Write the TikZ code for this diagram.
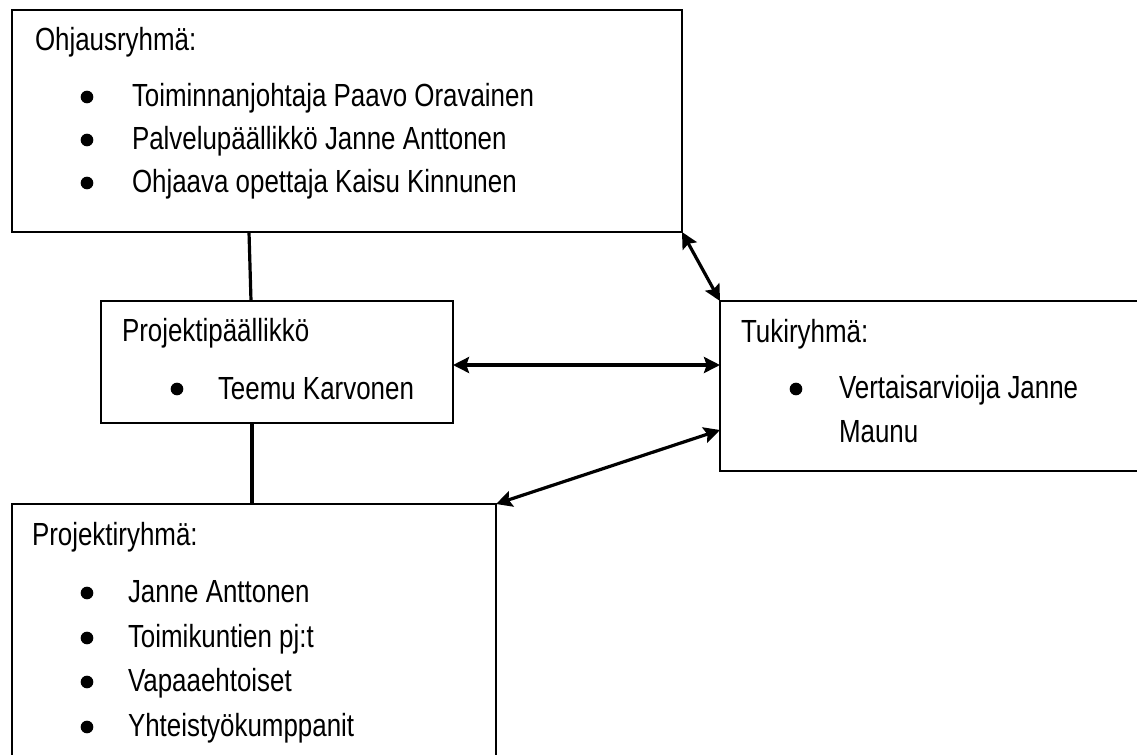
\documentclass[tikz,border=0pt]{standalone}
\usepackage{fontspec}
\setmainfont{Liberation Sans}[FakeStretch=0.81]
\usetikzlibrary{arrows.meta,calc}
\begin{document}
\begin{tikzpicture}[x=0.75pt,y=-0.75pt,
  box/.style={draw,line width=1pt,rectangle,anchor=north west,inner sep=0pt,outer sep=0pt},
  txt/.style={anchor=base west,inner sep=0pt,outer sep=0pt,font=\fontsize{24pt}{28pt}\selectfont},
  bul/.style={circle,fill,inner sep=0pt,minimum size=9.5pt},
  conn/.style={line width=2.4pt},
  arr/.style={line width=2.4pt,{Stealth[length=12pt,width=12pt,inset=2pt]}-{Stealth[length=12pt,width=12pt,inset=2pt]}}]
\useasboundingbox (0,0) rectangle (1137,754);
\clip (0,0) rectangle (1137,754);
% boxes
\node[box,minimum width=502.5pt,minimum height=166.5pt] (ohj) at (12,10) {};
\node[box,minimum width=264pt,minimum height=91.5pt] (pp) at (101,301) {};
\node[box,minimum width=322.5pt,minimum height=127.5pt] (tuki) at (720,301) {};
\node[box,minimum width=363pt,minimum height=202.5pt] (pr) at (12,504) {};
% Ohjausryhmä
\node[txt] (ohjh) at (35,50) {Ohjausryhmä:};
\node[bul] (ob1) at (87,97) {};
\node[txt] (ot1) at (132,106) {Toiminnanjohtaja Paavo Oravainen};
\node[bul] (ob2) at (87,140) {};
\node[txt] (ot2) at (132,149) {Palvelupäällikkö Janne Anttonen};
\node[bul] (ob3) at (87,183) {};
\node[txt] (ot3) at (132,192) {Ohjaava opettaja Kaisu Kinnunen};
% Projektipäällikkö
\node[txt] (pph) at (122,341) {Projektipäällikkö};
\node[bul] (pb1) at (177,389) {};
\node[txt] (pt1) at (218,399) {Teemu Karvonen};
% Tukiryhmä
\node[txt] (tukih) at (741,342) {Tukiryhmä:};
\node[bul] (tb1) at (796,389) {};
\node[txt] (tt1) at (839,398) {Vertaisarvioija Janne};
\node[txt] (tt2) at (839,442) {Maunu};
% Projektiryhmä
\node[txt] (prh) at (32,545) {Projektiryhmä:};
\node[bul] (rb1) at (87,593) {};
\node[txt] (rt1) at (128,602) {Janne Anttonen};
\node[bul] (rb2) at (87,638) {};
\node[txt] (rt2) at (128,647) {Toimikuntien pj:t};
\node[bul] (rb3) at (87,682) {};
\node[txt] (rt3) at (128,691) {Vapaaehtoiset};
\node[bul] (rb4) at (87,727) {};
\node[txt] (rt4) at (128,736) {Yhteistyökumppanit};
% connectors
\draw[conn] ($(ohj.south west)+(237,0)$) -- ($(pp.north west)+(150,0)$);
\draw[conn] ($(pp.south west)+(151,0)$) -- ($(pr.north west)+(240,0)$);
\draw[arr] ($(pp.north east)+(0,64)$) -- ($(tuki.north west)+(0,64)$);
\draw[arr] (ohj.south east) -- (tuki.north west);
\draw[arr] ($(tuki.north west)+(0,129)$) -- (pr.north east);
\end{tikzpicture}
\end{document}
